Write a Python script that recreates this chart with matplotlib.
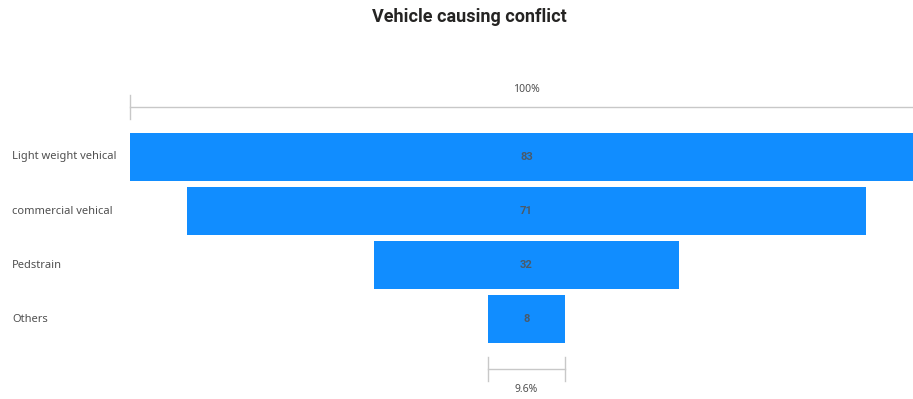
import matplotlib.pyplot as plt
import matplotlib.transforms as mtransforms

# data
categories = ['Light weight vehical', 'commercial vehical', 'Pedstrain', 'Others']
values = [83, 71, 32, 8]

bar_color = '#118DFF'
text_color = '#505050'
plt.rcParams['font.family'] = ['Noto Sans', 'DejaVu Sans']

fig = plt.figure(figsize=(9.13, 3.99), dpi=100)
ax = fig.add_axes([0, 0, 1, 1])

# 1 value unit ~ 9.56 px, funnel centred at x=526.5 px
px = 9.56
ax.set_xlim(-526.5 / px, (913 - 526.5) / px)
pitch = 54
ax.set_ylim((399 - 157) / pitch, -157 / pitch)
ax.axis('off')

ypos = list(range(len(categories)))
lefts = [-v / 2 for v in values]
ax.barh(ypos, values, left=lefts, height=48 / pitch, color=bar_color)

for y, v in zip(ypos, values):
    ax.text(0, y, str(v), ha='center', va='center', fontsize=8,
            family=['Roboto', 'DejaVu Sans'], fontweight='bold', color='#4a5a6a')

# category labels at fixed figure x
trans = mtransforms.blended_transform_factory(fig.transFigure, ax.transData)
for y, c in zip(ypos, categories):
    ax.text(12 / 913, y, c, transform=trans, ha='left', va='center',
            fontsize=8, color=text_color)

# top bracket (100%)
top = values[0]
y_top = (107 - 157) / pitch
tick = 12 / pitch
ax.plot([-top / 2, ax.get_xlim()[1]], [y_top, y_top], color='#c8c8c8', lw=1)
ax.plot([-top / 2, -top / 2], [y_top - tick, y_top + tick], color='#c8c8c8', lw=1)
ax.text(0, y_top - 18 / pitch, '100%', ha='center', va='center', fontsize=7.5,
        color=text_color)

# bottom bracket (last / first)
last = values[-1]
y_bot = (369 - 157) / pitch
ax.plot([-last / 2, last / 2], [y_bot, y_bot], color='#c8c8c8', lw=1)
for xe in (-last / 2, last / 2):
    ax.plot([xe, xe], [y_bot - tick, y_bot + tick], color='#c8c8c8', lw=1)
ax.text(0, y_bot + 21 / pitch, f'{last / top * 100:.1f}%', ha='center',
        va='center', fontsize=7.5, color=text_color)

fig.text(469 / 913, 1 - 17 / 399, 'Vehicle causing conflict', ha='center',
         va='center', fontsize=13, family=['Roboto', 'DejaVu Sans'],
         fontweight='bold', color='#252423')

fig.savefig('out.png', dpi=100)
